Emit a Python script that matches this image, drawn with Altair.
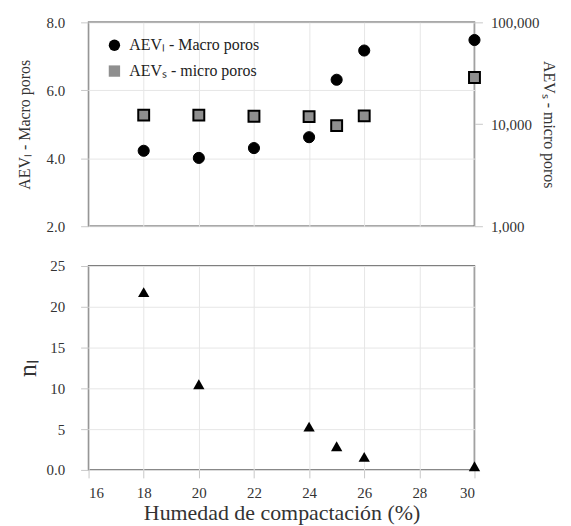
import altair as alt
import pandas as pd

humedad = [18, 20, 22, 24, 25, 26, 30]
aev_l = [4.22, 4.01, 4.30, 4.62, 6.31, 7.17, 7.48]
aev_s = [12300, 12300, 12000, 11900, 9700, 12100, 28800]
humedad_n = [18, 20, 24, 25, 26, 30]
n_l = [21.8, 10.5, 5.3, 2.9, 1.6, 0.45]
series = ["AEVₗ - Macro poros", "AEVₛ - micro poros"]
x_ticks = [16, 18, 20, 22, 24, 26, 28, 30]

FONT = "Liberation Serif"

df_l = pd.DataFrame({"h": humedad, "v": aev_l, "serie": series[0]})
df_s = pd.DataFrame({"h": humedad, "v": aev_s, "serie": series[1]})
df_n = pd.DataFrame({"h": humedad_n, "n": n_l})

xscale = alt.Scale(domain=[16, 30], nice=False, zero=False)
shape_scale = alt.Scale(domain=series, range=["circle", "square"])
fill_scale = alt.Scale(domain=series, range=["black", "#8f8f8f"])

legend = alt.Legend(
    title=None, orient="none", legendX=18, legendY=15,
    labelFontSize=16, labelFont=FONT, symbolSize=130, symbolStrokeColor="black",
    symbolStrokeWidth=1.5, rowPadding=8, labelColor="#222", labelOffset=7,
)

x_top = alt.X("h:Q", scale=xscale,
              axis=alt.Axis(labels=False, ticks=False, domain=False, title=None, values=x_ticks))

circles = alt.Chart(df_l).mark_point(filled=True, size=125, stroke="black", strokeWidth=1, opacity=1).encode(
    x=x_top,
    y=alt.Y("v:Q", scale=alt.Scale(domain=[2, 8], nice=False, zero=False),
            axis=alt.Axis(title="AEVₗ - Macro poros", values=[2, 4, 6, 8], format=".1f",
                          orient="left", labelPadding=16, titlePadding=14)),
    shape=alt.Shape("serie:N", scale=shape_scale, legend=legend),
    fill=alt.Fill("serie:N", scale=fill_scale, legend=legend),
)

squares = alt.Chart(df_s).mark_point(filled=True, size=120, stroke="black", strokeWidth=2, opacity=1).encode(
    x=x_top,
    y=alt.Y("v:Q", scale=alt.Scale(type="log", domain=[1000, 100000], nice=False),
            axis=alt.Axis(title="AEVₛ - micro poros", values=[1000, 10000, 100000], format=",",
                          orient="right", grid=False, labelPadding=8, titlePadding=2)),
    shape=alt.Shape("serie:N", scale=shape_scale, legend=legend),
    fill=alt.Fill("serie:N", scale=fill_scale, legend=legend),
)

top = alt.layer(circles, squares).resolve_scale(y="independent").properties(width=388, height=205)

bottom = alt.Chart(df_n).mark_point(shape="triangle-up", filled=True, color="black", size=130, opacity=1).encode(
    x=alt.X("h:Q", scale=xscale,
            axis=alt.Axis(title="Humedad de compactación (%)", values=x_ticks, titleFontSize=22,
                          titleBaseline="alphabetic", titleY=50)),
    y=alt.Y("n:Q", scale=alt.Scale(domain=[0, 25], nice=False),
            axis=alt.Axis(title="nₗ", values=[0, 5, 10, 15, 20, 25],
                          labelExpr="datum.value == 0 ? '0.0' : datum.label", titleFontSize=26,
                          labelPadding=16, titlePadding=6)),
).properties(width=388, height=205)

chart = alt.vconcat(top, bottom, spacing=23).configure(
    font=FONT
).configure_axis(
    labelFont=FONT, titleFont=FONT,
    labelFontSize=15, titleFontSize=16, titleFontWeight="normal",
    labelColor="#333", titleColor="#333", gridColor="#e6e6e6",
    tickColor="#c8c8c8", tickSize=8, domain=False, labelPadding=8,
).configure_legend(labelFont=FONT).configure_view(stroke="#555", strokeWidth=1.5)

chart.save("out.html", embed_options={"renderer": "svg", "actions": False})
